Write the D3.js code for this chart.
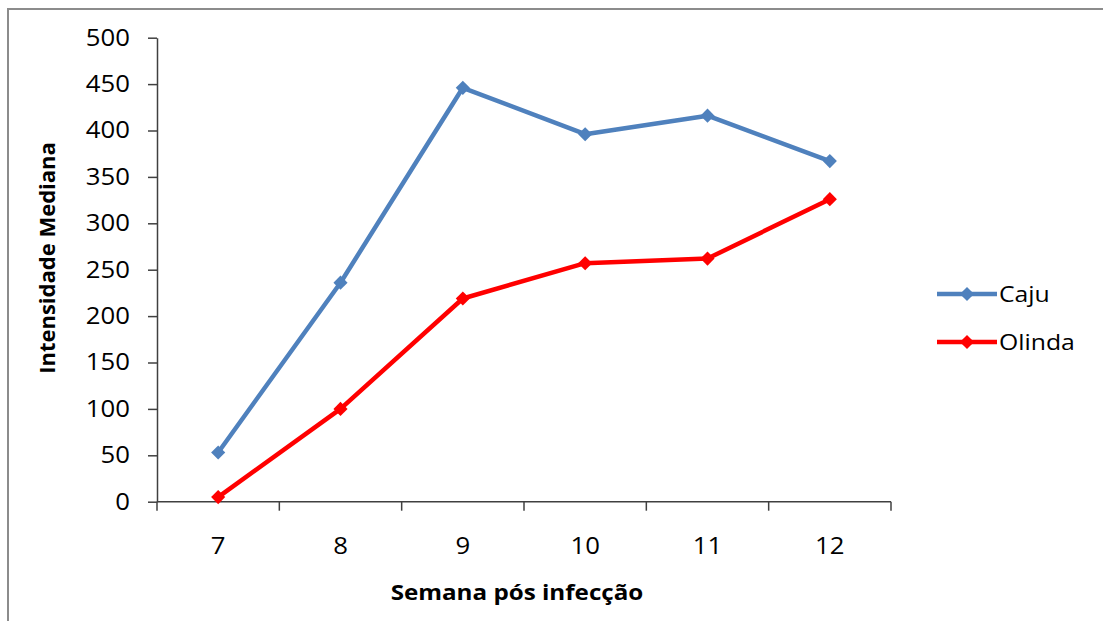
<!DOCTYPE html>
<html>
<head>
<meta charset="utf-8">
<script src="https://cdn.jsdelivr.net/npm/d3@7"></script>
<style>
  html, body { margin: 0; padding: 0; background: #fff; }
  svg { display: block; }
  text { font-family: "Open Sans", Lato, sans-serif; fill: #000; }
</style>
</head>
<body>
<svg id="chart" width="1103" height="621"></svg>
<script>
// Weeks after infection
const weeks = ["7", "8", "9", "10", "11", "12"];
// Median intensity per series
const caju = [53, 236, 446, 396, 416, 367];
const olinda = [5, 100, 219, 257, 262, 326];
const seriesNames = ["Caju", "Olinda"];
const seriesColors = ["#4F81BD", "#FF0000"];
const yTicks = [0, 50, 100, 150, 200, 250, 300, 350, 400, 450, 500];

const series = [
  { name: seriesNames[0], color: seriesColors[0], values: caju },
  { name: seriesNames[1], color: seriesColors[1], values: olinda }
];

const svg = d3.select("#chart");
const W = 1103, H = 621;
const stretch = 1.12; // text is set slightly wide

// outer chart frame
svg.append("rect")
  .attr("x", 8).attr("y", 9)
  .attr("width", W + 20).attr("height", H + 20)
  .attr("fill", "#fff")
  .attr("stroke", "#8c8c8c")
  .attr("stroke-width", 2);

const plot = { left: 157, right: 891, top: 37.7, bottom: 501.7 };

const x = d3.scaleBand().domain(weeks).range([plot.left, plot.right]).padding(0);
const y = d3.scaleLinear().domain([0, 500]).range([plot.bottom, plot.top]);

// y axis
const yAxis = svg.append("g")
  .attr("transform", `translate(${plot.left},0)`)
  .call(d3.axisLeft(y).tickValues(yTicks).tickSize(9).tickSizeOuter(0));
yAxis.select(".domain").attr("stroke", "#404040").attr("stroke-width", 1.5);
yAxis.selectAll(".tick line").attr("stroke", "#404040").attr("stroke-width", 1.5);
yAxis.selectAll(".tick text")
  .attr("font-size", 23).attr("fill", "#000")
  .attr("x", -27 / stretch)
  .attr("transform", `scale(${stretch},1)`)
  .style("font-family", "'Open Sans', sans-serif");

// x axis with boundary ticks between categories
const xAxisG = svg.append("g").attr("transform", `translate(0,${plot.bottom})`);
xAxisG.append("line")
  .attr("x1", plot.left).attr("x2", plot.right)
  .attr("stroke", "#404040").attr("stroke-width", 1.5);
const boundaries = weeks.map(w => x(w)).concat([x(weeks[weeks.length - 1]) + x.bandwidth()]);
xAxisG.selectAll("line.tk").data(boundaries).join("line")
  .attr("class", "tk")
  .attr("x1", d => d).attr("x2", d => d)
  .attr("y1", 0).attr("y2", 9)
  .attr("stroke", "#404040").attr("stroke-width", 1.5);
xAxisG.selectAll("text").data(weeks).join("text")
  .attr("transform", d => `translate(${x(d) + x.bandwidth() / 2},52) scale(${stretch},1)`)
  .attr("text-anchor", "middle")
  .attr("font-size", 23)
  .text(d => d);

// axis titles
svg.append("text")
  .attr("transform", `translate(55,258) rotate(-90)`)
  .attr("text-anchor", "middle")
  .attr("font-size", 22)
  .attr("font-weight", "bold")
  .text("Intensidade Mediana");

svg.append("text")
  .attr("transform", `translate(517,600) scale(1.1,1)`)
  .attr("text-anchor", "middle")
  .attr("font-size", 22)
  .attr("font-weight", "bold")
  .text("Semana pós infecção");

// lines and square diamond markers
const line = d3.line()
  .x((d, i) => x(weeks[i]) + x.bandwidth() / 2)
  .y(d => y(d));
const squareDiamond = {
  draw(ctx, size) {
    const r = Math.sqrt(size / 2);
    ctx.moveTo(0, -r); ctx.lineTo(r, 0); ctx.lineTo(0, r); ctx.lineTo(-r, 0); ctx.closePath();
  }
};
const diamond = d3.symbol().type(squareDiamond).size(100);

series.forEach(s => {
  const g = svg.append("g");
  g.append("path")
    .attr("d", line(s.values))
    .attr("fill", "none")
    .attr("stroke", s.color)
    .attr("stroke-width", 4.5)
    .attr("stroke-linejoin", "round");
  g.selectAll("path.m").data(s.values).join("path")
    .attr("class", "m")
    .attr("d", diamond)
    .attr("transform", (d, i) => `translate(${x(weeks[i]) + x.bandwidth() / 2},${y(d)})`)
    .attr("fill", s.color);
});

// legend
const legend = svg.append("g");
series.forEach((s, i) => {
  const ly = 294 + i * 48;
  legend.append("line")
    .attr("x1", 937).attr("x2", 997)
    .attr("y1", ly).attr("y2", ly)
    .attr("stroke", s.color).attr("stroke-width", 4.5);
  legend.append("path")
    .attr("d", diamond)
    .attr("transform", `translate(967,${ly})`)
    .attr("fill", s.color);
  legend.append("text")
    .attr("transform", `translate(999,${ly + 8}) scale(1.1,1)`)
    .attr("font-size", 22.5)
    .text(s.name);
});
</script>
</body>
</html>
